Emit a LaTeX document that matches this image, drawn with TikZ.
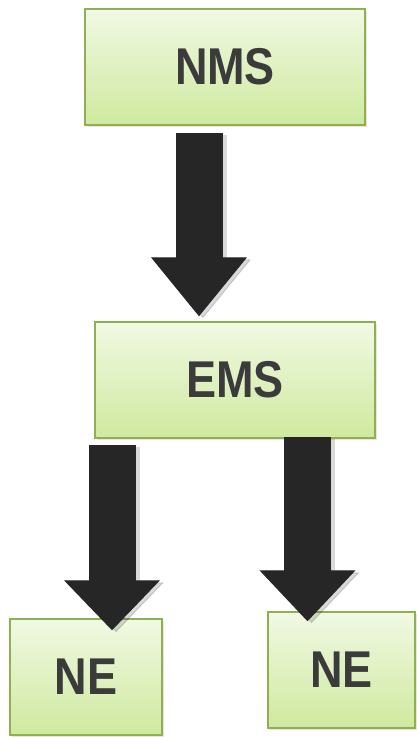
\documentclass[tikz,border=0pt]{standalone}
\usepackage{fontspec}
\setmainfont{Liberation Sans}
\usetikzlibrary{arrows.meta,shadows}
\definecolor{boxtop}{HTML}{F1F9E4}
\definecolor{boxbot}{HTML}{CFE99E}
\definecolor{boxline}{HTML}{8FB050}
\definecolor{labeltext}{HTML}{3B3B3B}
\definecolor{arrowfill}{HTML}{262626}
\newcommand{\boxlabel}[1]{\scalebox{1}[1.15]{\fontsize{45}{50}\selectfont\bfseries #1}}

\begin{document}
\begin{tikzpicture}[x=1pt,y=1pt,
    unit/.style={draw=boxline, line width=1.5pt, top color=boxtop, bottom color=boxbot,
      minimum height=116pt, inner sep=0pt, text=labeltext,
      drop shadow={opacity=0.2, shadow xshift=2pt, shadow yshift=-2pt}},
    bigarrow/.style={draw=arrowfill, line width=47pt,
      -{Triangle[length=#1, width=96pt, line width=1pt]}},
    bigarrow/.default=52pt,
    arrowshade/.style={bigarrow=#1, draw=black, opacity=0.15,
      transform canvas={xshift=4pt, yshift=-2pt}}]
  \useasboundingbox (0,0) rectangle (416,-739);
  \node[unit, minimum width=280pt] (nms) at (225,-67) {\boxlabel{NMS}};
  \node[unit, minimum width=280pt] (ems) at (235,-380) {\boxlabel{EMS}};
  \node[unit, minimum width=152pt] (neleft) at (86,-677) {\boxlabel{NE}};
  \node[unit, minimum width=147pt] (neright) at (341.5,-670) {\boxlabel{NE}};

  \draw[arrowshade=59pt] ([xshift=-26pt,yshift=-7pt]nms.south) -- ([xshift=-36pt,yshift=5pt]ems.north);
  \draw[bigarrow=59pt] ([xshift=-26pt,yshift=-7pt]nms.south) -- ([xshift=-36pt,yshift=5pt]ems.north);
  \draw[arrowshade=50pt] ([xshift=-123pt,yshift=-6pt]ems.south) -- ([xshift=26pt,yshift=-12pt]neleft.north);
  \draw[bigarrow=50pt] ([xshift=-123pt,yshift=-6pt]ems.south) -- ([xshift=26pt,yshift=-12pt]neleft.north);
  \draw[arrowshade=51pt] ([xshift=72.5pt,yshift=2pt]ems.south) -- ([xshift=-34pt,yshift=-10pt]neright.north);
  \draw[bigarrow=51pt] ([xshift=72.5pt,yshift=2pt]ems.south) -- ([xshift=-34pt,yshift=-10pt]neright.north);
\end{tikzpicture}
\end{document}
